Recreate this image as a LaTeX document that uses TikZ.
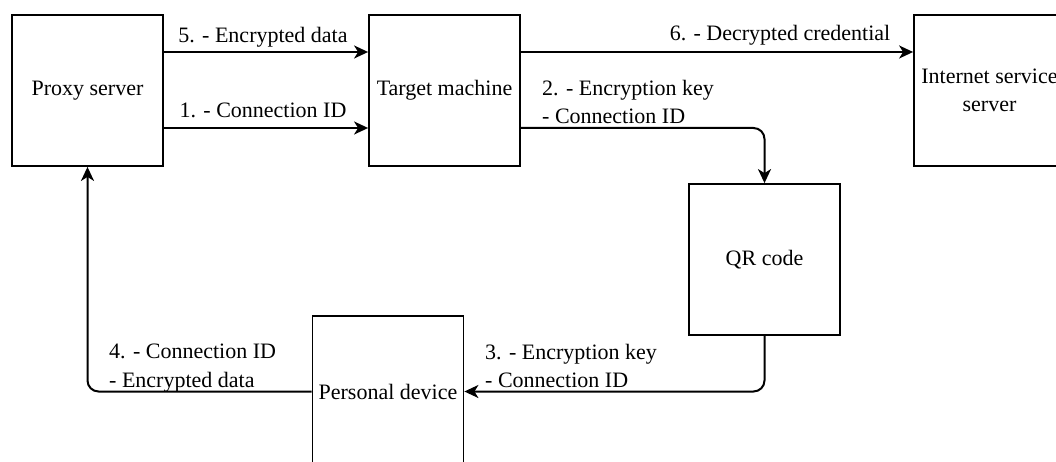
\documentclass[tikz,border=0pt]{standalone}
\usepackage{fontspec}
\setmainfont{Liberation Serif}
\usetikzlibrary{arrows.meta}
\begin{document}
\begin{tikzpicture}[x=1pt,y=-1pt,
  box/.style={draw, line width=1.8pt, minimum width=151pt, minimum height=151pt, inner sep=0pt, align=center, font=\fontsize{22}{28}\selectfont},
  arr/.style={line width=2pt, -{Stealth[length=14pt,width=13pt,inset=4pt]}, rounded corners=11pt},
  lbl/.style={font=\fontsize{22}{28.5}\selectfont, inner sep=0pt, align=left}]
\useasboundingbox (0,0) rectangle (1056,462);
\clip (0,0) rectangle (1056,462);
\node[box] (proxy) at (87.5,90.5) {Proxy server};
\node[box] (target) at (444.5,90.5) {Target machine};
\node[box] (inet) at (989.5,90.5) {Internet service\\server};
\node[box] (qr) at (764.5,259.5) {QR code};
\node[box] (personal) at (388,391.5) {Personal device};

\draw[arr] ([yshift=38.5pt]proxy.east) -- ([yshift=38.5pt]target.west);
\draw[arr] ([yshift=-37.5pt]proxy.east) -- ([yshift=-37.5pt]target.west);
\draw[arr] ([yshift=38.5pt]target.east) -- ([yshift=38.5pt]inet.west);
\draw[arr] ([yshift=-37.5pt]target.east) -| (qr.north);
\draw[arr] (qr.south) |- (personal.east);
\draw[arr] (personal.west) -| (proxy.south);

\node[lbl, anchor=base] (l5) at (263,43) {5. - Encrypted data};
\node[lbl, anchor=base] (l1) at (263,118) {1. - Connection ID};
\node[lbl, anchor=base] (l6) at (780,41) {6. - Decrypted credential};
\node[lbl, anchor=north west] (l2) at (542,80) {2. - Encryption key\\- Connection ID};
\node[lbl, anchor=north west] (l3) at (485,344) {3. - Encryption key\\- Connection ID};
\node[lbl, anchor=north west] (l4) at (109,344) {4. - Connection ID\\- Encrypted data};
\end{tikzpicture}
\end{document}
